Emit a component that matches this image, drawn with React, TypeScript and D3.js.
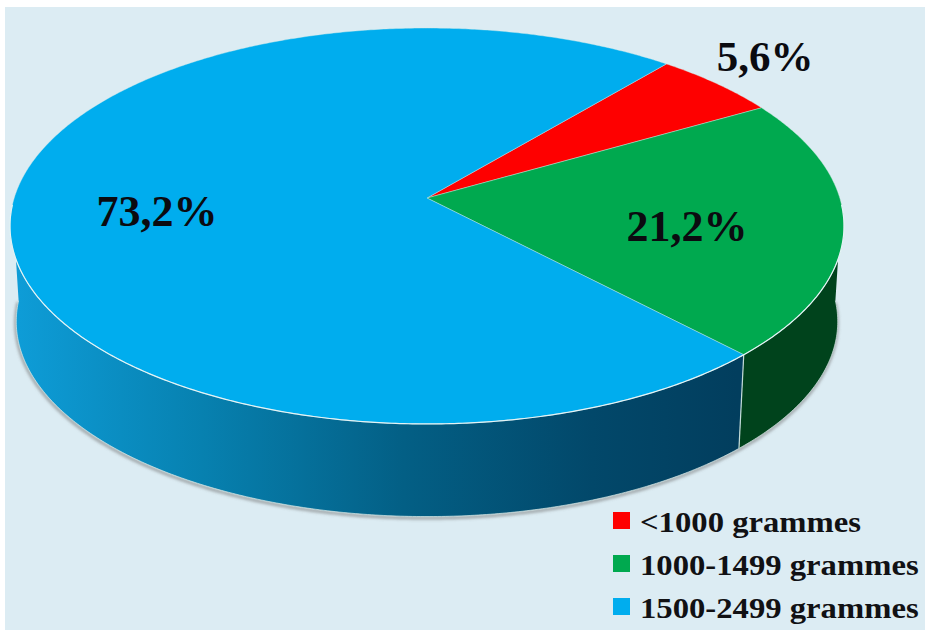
import React from "react";
import * as d3 from "d3";

const categories = ["<1000 grammes", "1000-1499 grammes", "1500-2499 grammes"];
const values = [5.6, 21.2, 73.2];
const valueLabels = ["5,6%", "21,2%", "73,2%"];
const topColors = ["#fe0000", "#00a94f", "#00adee"];
const sideColors = ["#7a0000", "#00431c", "url(#blueWall)"];
const labelPos: [number, number, number][] = [
  [765, 71, 43],
  [687, 241, 44],
  [157, 226, 44],
];
const legendBaseline = [532, 575, 618];
const startDeg = 40;

const W = 925;
const H = 631;
const ax = 427;
const ayTop = 198;
const ayBottom = 294;
const k = 0.1414;
const a = 194;
const b = 412.8;
const bottomScale = 0.985;

function project(theta: number, ay: number, s: number): [number, number] {
  const u = Math.sin(theta);
  const v = Math.cos(theta);
  const w = 1 + k * v;
  return [ax + (s * b * u) / w, ay - (s * a * v) / w];
}

const line = d3.line<[number, number]>();
const deg = Math.PI / 180;

function arcSamples(a0: number, a1: number, ay: number, s: number) {
  const n = Math.max(2, Math.ceil(((a1 - a0) / deg) * 2));
  return d3.range(n + 1).map((i) => project(a0 + ((a1 - a0) * i) / n, ay, s));
}

export default function App() {
  const pie = d3
    .pie<number>()
    .sort(null)
    .startAngle(startDeg * deg)
    .endAngle(startDeg * deg + 2 * Math.PI);
  const arcs = pie(values);

  const wallStart = 92 * deg;
  const wallEnd = 268 * deg;
  const walls = arcs
    .map((d, i) => {
      const s0 = Math.max(d.startAngle, wallStart);
      const s1 = Math.min(d.endAngle, wallEnd);
      if (s1 <= s0) return null;
      const t = arcSamples(s0, s1, ayTop, 1);
      const bt = arcSamples(s0, s1, ayBottom, bottomScale).reverse();
      return { i, d: line([...t, ...bt])! + "Z", t, bt };
    })
    .filter(Boolean) as { i: number; d: string; t: [number, number][]; bt: [number, number][] }[];

  const outline = arcSamples(wallStart, wallEnd, ayBottom, bottomScale);

  return (
    <svg
      width={W}
      height={H}
      viewBox={`0 0 ${W} ${H}`}
      style={{ position: "absolute", left: 0, top: 0, display: "block" }}
    >
      <defs>
        <linearGradient id="blueWall" gradientUnits="userSpaceOnUse" x1={13} x2={737} y1={0} y2={0}>
          <stop offset="0" stopColor="#0e9dd8" />
          <stop offset="0.26" stopColor="#0781b0" />
          <stop offset="0.54" stopColor="#035f85" />
          <stop offset="0.8" stopColor="#02486a" />
          <stop offset="1" stopColor="#023e5e" />
        </linearGradient>
        <filter id="soft" x="-5%" y="-5%" width="110%" height="110%">
          <feGaussianBlur stdDeviation="1.6" />
        </filter>
      </defs>
      <rect x={0} y={0} width={W} height={H} fill="#ffffff" />
      <rect x={5} y={7} width={W - 5} height={H - 8} fill="#dcecf3" />

      <path
        d={line(outline)!}
        transform="translate(-0.5,1.5)"
        fill="none"
        stroke="#6f6f6f"
        strokeOpacity={0.6}
        strokeWidth={3}
        filter="url(#soft)"
      />
      {walls.map((w) => (
        <path key={w.i} d={w.d} fill={sideColors[w.i]} />
      ))}
      <path d={line(outline)!} fill="none" stroke="#d4e8e6" strokeOpacity={0.7} strokeWidth={1} />
      {walls.slice(1).map((w) => (
        <path
          key={`e${w.i}`}
          d={line([w.t[0], w.bt[w.bt.length - 1]])!}
          stroke="#c4dcd8"
          strokeWidth={1.2}
          fill="none"
        />
      ))}

      {arcs.map((d, i) => {
        const pts = arcSamples(d.startAngle, d.endAngle, ayTop, 1);
        return (
          <path
            key={i}
            d={line([[ax, ayTop], ...pts])! + "Z"}
            fill={topColors[i]}
            stroke="#d8eee8"
            strokeOpacity={0.5}
            strokeWidth={0.8}
          />
        );
      })}
      <path
        d={line(arcSamples(wallStart, wallEnd, ayTop, 1))!}
        fill="none"
        stroke="#e4f3f5"
        strokeWidth={1.2}
      />

      {valueLabels.map((t, i) => (
        <text
          key={t}
          x={labelPos[i][0]}
          y={labelPos[i][1]}
          fontSize={labelPos[i][2]}
          fontFamily="'Liberation Serif', serif"
          fontWeight="bold"
          textAnchor="middle"
          fill="#0b0b10"
        >
          {t}
        </text>
      ))}

      {categories.map((c, i) => (
        <g key={c}>
          <rect
            x={613}
            y={legendBaseline[i] - 20}
            width={17}
            height={17}
            fill={topColors[i]}
          />
          <text
            transform={`translate(640,${legendBaseline[i]}) scale(1.09,1)`}
            fontSize={30}
            fontFamily="'Liberation Serif', serif"
            fontWeight="bold"
            fill="#111114"
          >
            {c}
          </text>
        </g>
      ))}
    </svg>
  );
}
